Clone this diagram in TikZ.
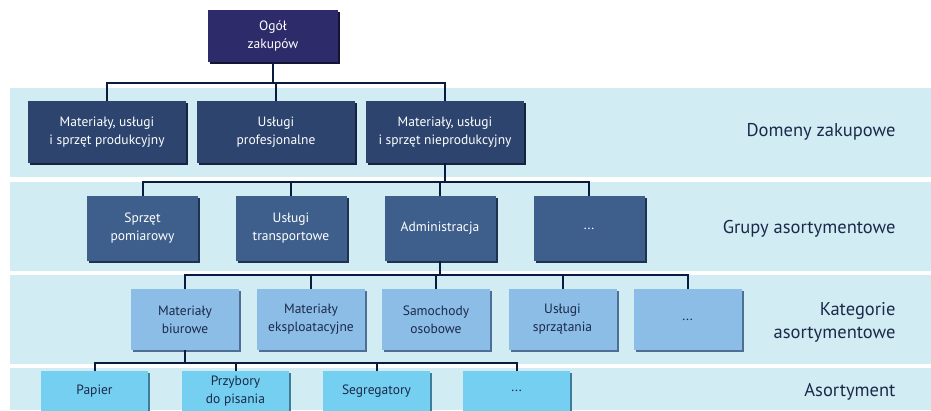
\documentclass[tikz,border=0pt]{standalone}
\usepackage{fontspec}
\setmainfont{PT Sans}
\usetikzlibrary{shadows}
\definecolor{bandbg}{HTML}{D2ECF4}
\definecolor{wire}{HTML}{0B1B3F}
\definecolor{rootfill}{HTML}{2D2B69}
\definecolor{rootshade}{HTML}{141433}
\definecolor{domfill}{HTML}{2C446E}
\definecolor{domshade}{HTML}{17243F}
\definecolor{grpfill}{HTML}{3E5F8B}
\definecolor{grpshade}{HTML}{1F3350}
\definecolor{katfill}{HTML}{8CBDE6}
\definecolor{katshade}{HTML}{4D6F95}
\definecolor{asofill}{HTML}{74CFF0}
\definecolor{asoshade}{HTML}{3F7C99}
\definecolor{darktext}{HTML}{1B2A4A}
\begin{document}
\begin{tikzpicture}[x=1pt,y=-1pt,
	box/.style={rectangle,align=center,inner sep=0pt,font=\fontsize{13.5}{18}\selectfont},
	rootbox/.style={box,fill=rootfill,text=white,minimum width=130pt,minimum height=52pt,general shadow={fill=rootshade,shadow xshift=2pt,shadow yshift=-2pt}},
	dombox/.style={box,fill=domfill,text=white,minimum width=158pt,minimum height=62pt,general shadow={fill=domshade,shadow xshift=2pt,shadow yshift=-2pt}},
	grpbox/.style={box,fill=grpfill,text=white,minimum width=111pt,minimum height=65pt,general shadow={fill=grpshade,shadow xshift=2pt,shadow yshift=-2pt}},
	katbox/.style={box,fill=katfill,text=darktext,minimum width=108pt,minimum height=61pt,general shadow={fill=katshade,shadow xshift=2pt,shadow yshift=-2pt}},
	asobox/.style={box,fill=asofill,text=darktext,minimum width=107pt,minimum height=40pt,general shadow={fill=asoshade,shadow xshift=2pt,shadow yshift=-2pt}},
	levelname/.style={anchor=east,align=right,text=darktext,font=\fontsize{18.5}{23}\selectfont},
	wired/.style={draw=wire,line width=2pt}]
	\useasboundingbox (0,0) rectangle (931,410);
	\clip (0,0) rectangle (931,410);
	% bands
	\fill[bandbg] (10,88) rectangle (931,177);
	\fill[bandbg] (10,182) rectangle (931,271);
	\fill[bandbg] (10,275) rectangle (931,364);
	\fill[bandbg] (10,368) rectangle (931,410);

	\node[rootbox] (root) at (273,36) {Ogół\\zakupów};

	\node[dombox] (dom1) at (107,132) {Materiały, usługi\\i sprzęt produkcyjny};
	\node[dombox] (dom2) at (276,132) {Usługi\\profesjonalne};
	\node[dombox] (dom3) at (445,132) {Materiały, usługi\\i sprzęt nieprodukcyjny};

	\node[grpbox] (grp1) at (142.5,228.5) {Sprzęt\\pomiarowy};
	\node[grpbox] (grp2) at (291,228.5) {Usługi\\transportowe};
	\node[grpbox] (grp3) at (440,228.5) {Administracja};
	\node[grpbox] (grp4) at (589,228.5) {...};

	\node[katbox] (kat1) at (185,319.5) {Materiały\\biurowe};
	\node[katbox] (kat2) at (311,319.5) {Materiały\\eksploatacyjne};
	\node[katbox] (kat3) at (436,319.5) {Samochody\\osobowe};
	\node[katbox] (kat4) at (562.5,319.5) {Usługi\\sprzątania};
	\node[katbox] (kat5) at (687.5,319.5) {...};

	\node[asobox] (aso1) at (94.5,391) {Papier};
	\node[asobox] (aso2) at (235.5,391) {Przybory\\do pisania};
	\node[asobox] (aso3) at (376.5,391) {Segregatory};
	\node[asobox] (aso4) at (516.5,391) {...};

	\node[levelname] (ldom) at (899,132) {Domeny zakupowe};
	\node[levelname] (lgrp) at (899,228.5) {Grupy asortymentowe};
	\node[levelname] (lkat) at (899,322) {Kategorie\\asortymentowe};
	\node[levelname] (laso) at (899,392) {Asortyment};

	% connectors
	\foreach \c in {dom1,dom2,dom3}
		\draw[wired] (root.south) -- ++(0,21) -| (\c.north);
	\foreach \c in {grp1,grp2,grp3,grp4}
		\draw[wired] (dom3.south) -- ++(0,19) -| (\c.north);
	\foreach \c in {kat1,kat2,kat3,kat4,kat5}
		\draw[wired] (grp3.south) -- ++(0,14) -| (\c.north);
	\foreach \c in {aso1,aso2,aso3,aso4}
		\draw[wired] (kat1.south) -- ++(0,13) -| (\c.north);
\end{tikzpicture}
\end{document}
